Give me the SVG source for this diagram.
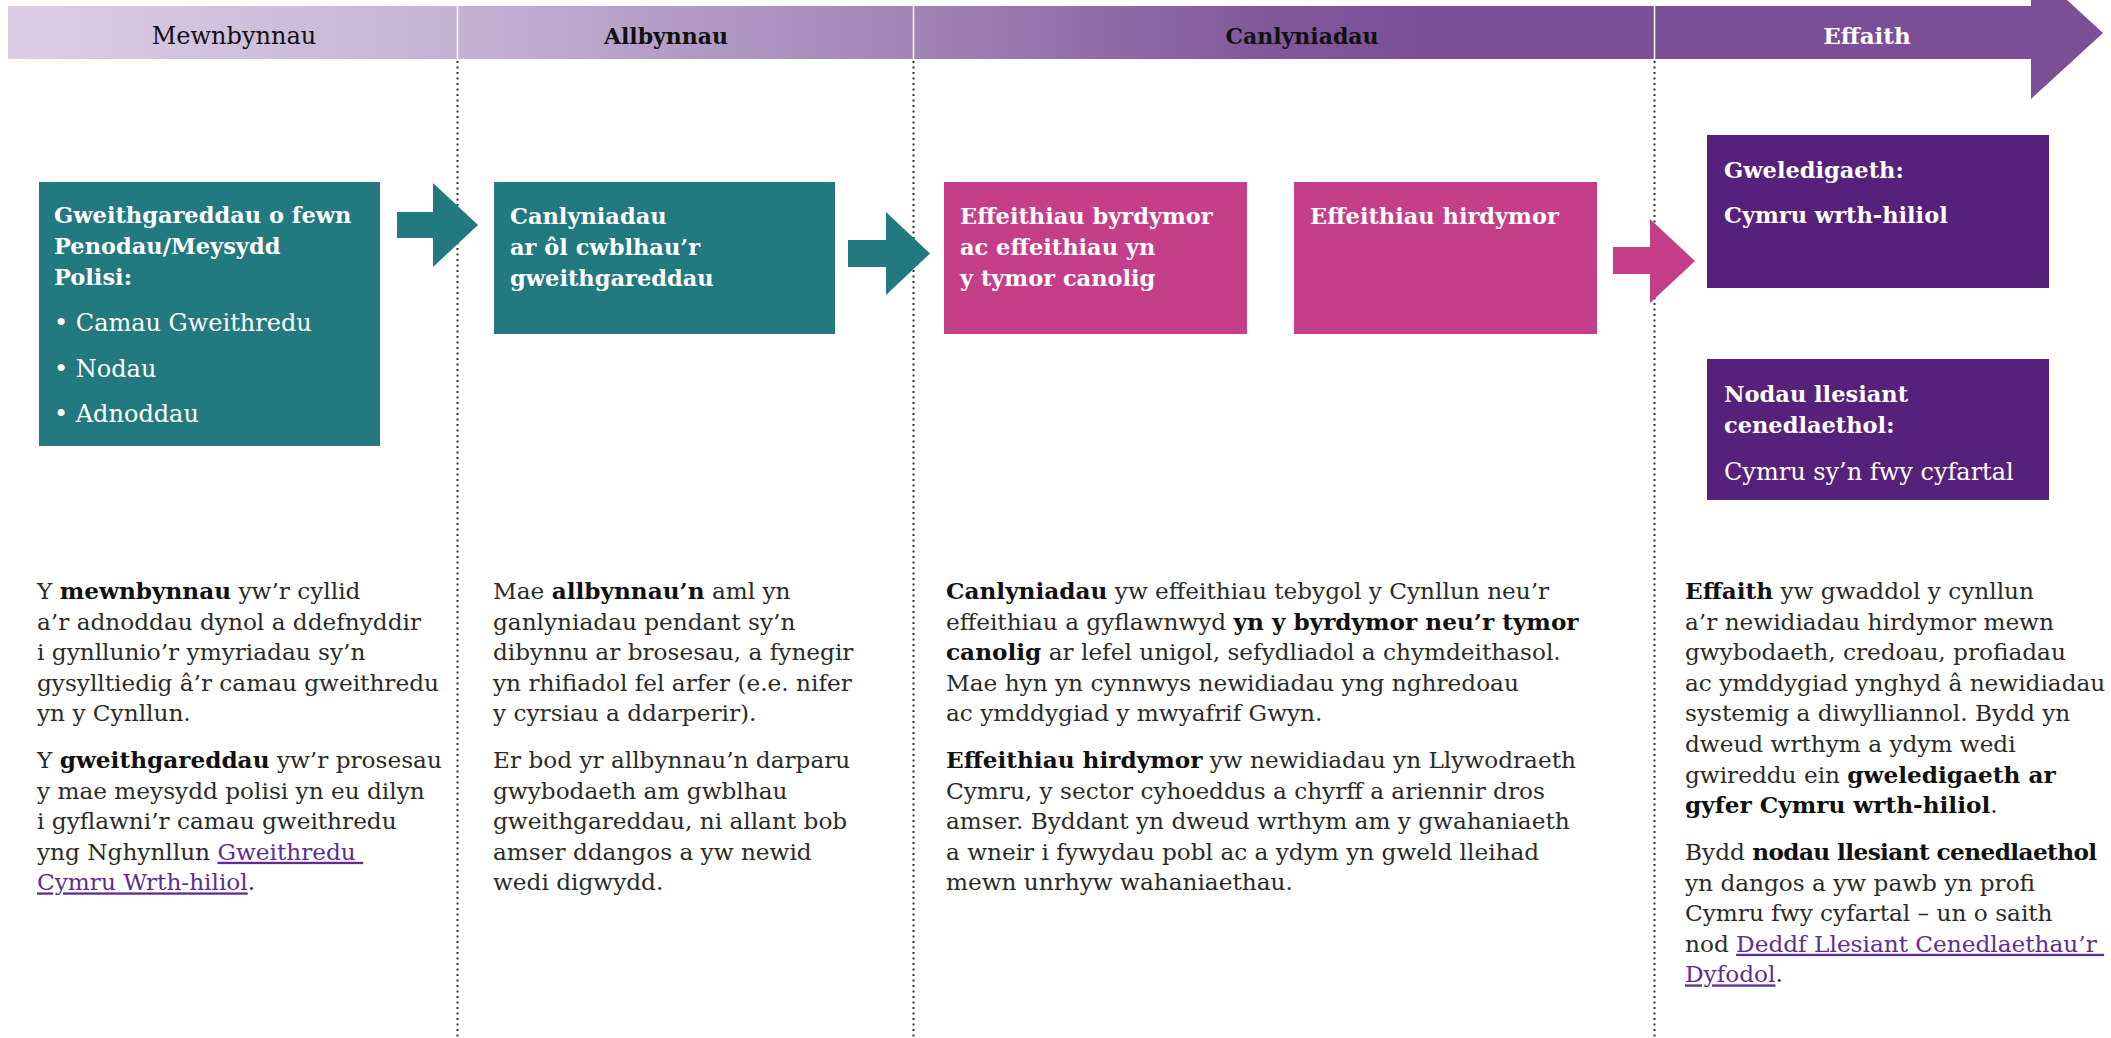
<svg xmlns="http://www.w3.org/2000/svg" width="2111" height="1038" viewBox="0 0 2111 1038">
<defs>
<linearGradient id="band" gradientUnits="userSpaceOnUse" x1="8" y1="0" x2="1420" y2="0">
<stop offset="0" stop-color="#dbcfe4"/>
<stop offset="0.32" stop-color="#c4b2d4"/>
<stop offset="0.64" stop-color="#a184b7"/>
<stop offset="0.88" stop-color="#83599c"/>
<stop offset="1" stop-color="#7a4f96"/>
</linearGradient>
<style>
.hd{font-family:"DejaVu Serif","Liberation Serif",serif;font-size:24px;fill:#111;text-anchor:middle}
.hdb{font-family:"DejaVu Serif","Liberation Serif",serif;font-size:22px;font-weight:bold;fill:#111;text-anchor:middle}
.hdw{font-family:"DejaVu Serif","Liberation Serif",serif;font-size:23px;font-weight:bold;fill:#fff;text-anchor:middle}
.div{stroke:#fff;stroke-width:1.5}
.dot{stroke:#333;stroke-width:2;stroke-dasharray:2 3.5;fill:none}
.teal{fill:#227a80}
.pink{fill:#c53e8a}
.purp{fill:#56217a}
.bt{font-family:"DejaVu Serif","Liberation Serif",serif;font-size:22.5px;font-weight:bold;fill:#fff}
.bl{font-family:"DejaVu Serif","Liberation Serif",serif;font-size:24px;fill:#fff}
.body{font-family:"DejaVu Serif","Liberation Serif",serif;font-size:23.2px;fill:#2a2a2a}
.b{font-weight:bold;fill:#111}
.tight{letter-spacing:-0.6px}
.lk{fill:#5e2d91;text-decoration:underline}
</style>
</defs>

<g id="timeline">
<path d="M8,6 H2031 V-33 L2103,33 L2031,99 V59 H8 Z" fill="url(#band)"/>
<line class="div" x1="457.5" y1="6" x2="457.5" y2="59"/>
<line class="div" x1="913.5" y1="6" x2="913.5" y2="59"/>
<line class="div" x1="1654.5" y1="6" x2="1654.5" y2="59"/>
<text class="hd" x="234" y="44">Mewnbynnau</text>
<text class="hdb" x="666" y="44">Allbynnau</text>
<text class="hdb" x="1302" y="44">Canlyniadau</text>
<text class="hdw" x="1867" y="44">Effaith</text>
</g>

<g id="dividers">
<line class="dot" x1="457.5" y1="61" x2="457.5" y2="1038"/>
<line class="dot" x1="913.5" y1="61" x2="913.5" y2="1038"/>
<line class="dot" x1="1654.5" y1="61" x2="1654.5" y2="1038"/>
</g>

<g id="connectors">
<polygon class="teal" points="397,212 433,212 433,183 478,225 433,267 433,238 397,238"/>
<polygon class="teal" points="848,240 886,240 886,212 930,253.5 886,295 886,267 848,267"/>
<polygon class="pink" points="1613,247 1650,247 1650,219 1695,261 1650,303 1650,274 1613,274"/>
</g>

<g id="node-inputs">
<rect class="teal" x="39" y="182" width="341" height="264"/>
<text class="bt"><tspan x="54" y="223">Gweithgareddau o fewn</tspan><tspan x="54" y="254">Penodau/Meysydd</tspan><tspan x="54" y="285">Polisi:</tspan></text>
<text class="bl"><tspan x="54" y="331">• Camau Gweithredu</tspan><tspan x="54" y="377">• Nodau</tspan><tspan x="54" y="422">• Adnoddau</tspan></text>
</g>

<g id="node-outputs">
<rect class="teal" x="494" y="182" width="341" height="152"/>
<text class="bt"><tspan x="510" y="224">Canlyniadau</tspan><tspan x="510" y="255">ar ôl cwblhau’r</tspan><tspan x="510" y="286">gweithgareddau</tspan></text>
</g>

<g id="node-short-term">
<rect class="pink" x="944" y="182" width="303" height="152"/>
<text class="bt"><tspan x="960" y="224">Effeithiau byrdymor</tspan><tspan x="960" y="255">ac effeithiau yn</tspan><tspan x="960" y="286">y tymor canolig</tspan></text>
</g>

<g id="node-long-term">
<rect class="pink" x="1294" y="182" width="303" height="152"/>
<text class="bt"><tspan x="1310" y="224">Effeithiau hirdymor</tspan></text>
</g>

<g id="node-vision">
<rect class="purp" x="1707" y="135" width="342" height="153"/>
<text class="bt"><tspan x="1724" y="178">Gweledigaeth:</tspan><tspan x="1724" y="223">Cymru wrth-hiliol</tspan></text>
</g>

<g id="node-goals">
<rect class="purp" x="1707" y="359" width="342" height="141"/>
<text class="bt"><tspan x="1724" y="402">Nodau llesiant</tspan><tspan x="1724" y="433">cenedlaethol:</tspan></text>
<text class="bl"><tspan x="1724" y="480">Cymru sy’n fwy cyfartal</tspan></text>
</g>

<g id="text-inputs">
<text class="body">
<tspan x="37" y="599">Y <tspan class="b">mewnbynnau</tspan> yw’r cyllid</tspan>
<tspan x="37" y="629.6">a’r adnoddau dynol a ddefnyddir</tspan>
<tspan x="37" y="660.2">i gynllunio’r ymyriadau sy’n</tspan>
<tspan x="37" y="690.8">gysylltiedig â’r camau gweithredu</tspan>
<tspan x="37" y="721.4">yn y Cynllun.</tspan>
<tspan x="37" y="768">Y <tspan class="b">gweithgareddau</tspan> yw’r prosesau</tspan>
<tspan x="37" y="798.6">y mae meysydd polisi yn eu dilyn</tspan>
<tspan x="37" y="829.2">i gyflawni’r camau gweithredu</tspan>
<tspan x="37" y="859.8">yng Nghynllun <tspan class="lk">Gweithredu </tspan></tspan>
<tspan x="37" y="890.4"><tspan class="lk">Cymru Wrth-hiliol</tspan>.</tspan>
</text>
</g>

<g id="text-outputs">
<text class="body">
<tspan x="493" y="599">Mae <tspan class="b">allbynnau’n</tspan> aml yn</tspan>
<tspan x="493" y="629.6">ganlyniadau pendant sy’n</tspan>
<tspan x="493" y="660.2">dibynnu ar brosesau, a fynegir</tspan>
<tspan x="493" y="690.8">yn rhifiadol fel arfer (e.e. nifer</tspan>
<tspan x="493" y="721.4">y cyrsiau a ddarperir).</tspan>
<tspan x="493" y="768">Er bod yr allbynnau’n darparu</tspan>
<tspan x="493" y="798.6">gwybodaeth am gwblhau</tspan>
<tspan x="493" y="829.2">gweithgareddau, ni allant bob</tspan>
<tspan x="493" y="859.8">amser ddangos a yw newid</tspan>
<tspan x="493" y="890.4">wedi digwydd.</tspan>
</text>
</g>

<g id="text-outcomes">
<text class="body">
<tspan x="946" y="599"><tspan class="b">Canlyniadau</tspan> yw effeithiau tebygol y Cynllun neu’r</tspan>
<tspan x="946" y="629.6">effeithiau a gyflawnwyd <tspan class="b">yn y byrdymor neu’r tymor</tspan></tspan>
<tspan x="946" y="660.2"><tspan class="b">canolig</tspan> ar lefel unigol, sefydliadol a chymdeithasol.</tspan>
<tspan x="946" y="690.8">Mae hyn yn cynnwys newidiadau yng nghredoau</tspan>
<tspan x="946" y="721.4">ac ymddygiad y mwyafrif Gwyn.</tspan>
<tspan x="946" y="768"><tspan class="b">Effeithiau hirdymor</tspan> yw newidiadau yn Llywodraeth</tspan>
<tspan x="946" y="798.6">Cymru, y sector cyhoeddus a chyrff a ariennir dros</tspan>
<tspan x="946" y="829.2">amser. Byddant yn dweud wrthym am y gwahaniaeth</tspan>
<tspan x="946" y="859.8">a wneir i fywydau pobl ac a ydym yn gweld lleihad</tspan>
<tspan x="946" y="890.4">mewn unrhyw wahaniaethau.</tspan>
</text>
</g>

<g id="text-impact">
<text class="body">
<tspan x="1685" y="599"><tspan class="b">Effaith</tspan> yw gwaddol y cynllun</tspan>
<tspan x="1685" y="629.6">a’r newidiadau hirdymor mewn</tspan>
<tspan x="1685" y="660.2">gwybodaeth, credoau, profiadau</tspan>
<tspan x="1685" y="690.8">ac ymddygiad ynghyd â newidiadau</tspan>
<tspan x="1685" y="721.4">systemig a diwylliannol. Bydd yn</tspan>
<tspan x="1685" y="752">dweud wrthym a ydym wedi</tspan>
<tspan x="1685" y="782.6">gwireddu ein <tspan class="b">gweledigaeth ar</tspan></tspan>
<tspan x="1685" y="813.2"><tspan class="b">gyfer Cymru wrth-hiliol</tspan>.</tspan>
<tspan x="1685" y="860">Bydd <tspan class="b tight">nodau llesiant cenedlaethol</tspan></tspan>
<tspan x="1685" y="890.6">yn dangos a yw pawb yn profi</tspan>
<tspan x="1685" y="921.2">Cymru fwy cyfartal – un o saith</tspan>
<tspan x="1685" y="951.8">nod <tspan class="lk">Deddf Llesiant Cenedlaethau’r </tspan></tspan>
<tspan x="1685" y="982.4"><tspan class="lk">Dyfodol</tspan>.</tspan>
</text>
</g>
</svg>
